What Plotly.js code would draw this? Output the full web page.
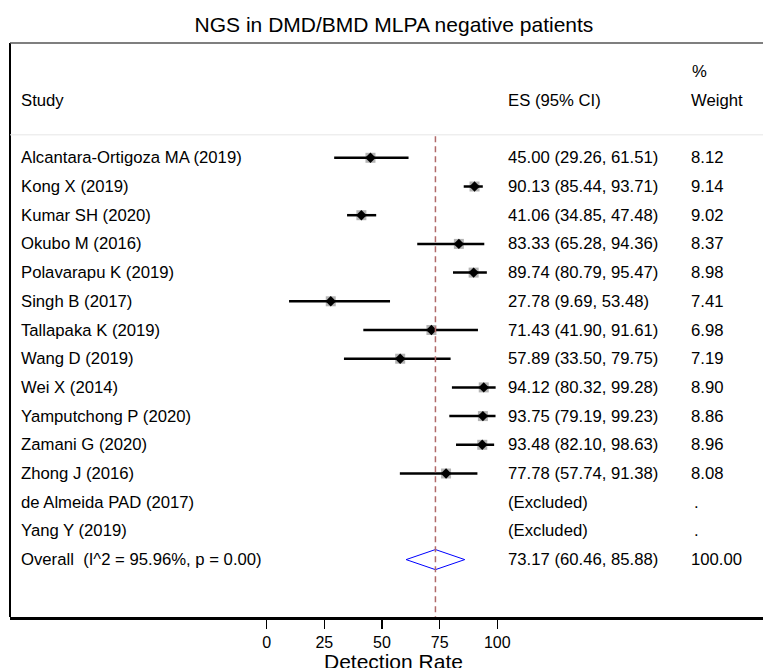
<!DOCTYPE html>
<html>
<head>
<meta charset="utf-8">
<script src="https://cdn.plot.ly/plotly-3.0.1.min.js"></script>
<style>html,body{margin:0;padding:0;background:#fff;}#chart{width:763px;height:668px;}</style>
</head>
<body>
<div id="chart"></div>
<script>
// ---- data ----
const studies = ["Alcantara-Ortigoza MA (2019)", "Kong X (2019)", "Kumar SH (2020)", "Okubo M (2016)",
  "Polavarapu K (2019)", "Singh B (2017)", "Tallapaka K (2019)", "Wang D (2019)", "Wei X (2014)",
  "Yamputchong P (2020)", "Zamani G (2020)", "Zhong J (2016)", "de Almeida PAD (2017)", "Yang Y (2019)"];
const es = [45.00, 90.13, 41.06, 83.33, 89.74, 27.78, 71.43, 57.89, 94.12, 93.75, 93.48, 77.78, null, null];
const ciLow = [29.26, 85.44, 34.85, 65.28, 80.79, 9.69, 41.90, 33.50, 80.32, 79.19, 82.10, 57.74, null, null];
const ciHigh = [61.51, 93.71, 47.48, 94.36, 95.47, 53.48, 91.61, 79.75, 99.28, 99.23, 98.63, 91.38, null, null];
const weights = [8.12, 9.14, 9.02, 8.37, 8.98, 7.41, 6.98, 7.19, 8.90, 8.86, 8.96, 8.08, null, null];
const overallLabel = "Overall  (I^2 = 95.96%, p = 0.00)";
const overallES = 73.17, overallLow = 60.46, overallHigh = 85.88, overallWeight = 100.00;
const tickVals = [0, 25, 50, 75, 100];
const tickText = ["0", "25", "50", "75", "100"];

// ---- layout helpers ----
const W = 763, H = 668, ML = 10, MR = 0, MT = 43, MB = 51;
const px = p => (p - ML) / (W - ML - MR);
const FONT = "Liberation Sans, Arial, sans-serif";
const rows = studies.map((_, i) => i);
const overallRow = studies.length;

const idx = rows.filter(i => es[i] !== null);

const traces = [
  { // weight boxes
    type: "scatter", mode: "markers",
    x: idx.map(i => es[i]), y: idx.map(i => rows[i]),
    marker: { symbol: "square", size: 10, color: "#b4b4b4" },
    hoverinfo: "skip", showlegend: false
  },
  { // CI lines + point
    type: "scatter", mode: "markers",
    x: idx.map(i => es[i]), y: idx.map(i => rows[i]),
    error_x: { type: "data", symmetric: false,
      array: idx.map(i => ciHigh[i] - es[i]), arrayminus: idx.map(i => es[i] - ciLow[i]),
      width: 0, thickness: 2.5, color: "#000" },
    marker: { symbol: "diamond", size: 8, color: "#000" },
    showlegend: false
  },
  { // overall diamond
    type: "scatter", mode: "lines",
    x: [overallLow, overallES, overallHigh, overallES, overallLow],
    y: [overallRow, overallRow - 0.35, overallRow, overallRow + 0.35, overallRow],
    line: { color: "#0000ff", width: 1 }, showlegend: false
  }
];

const ann = [];
const add = (text, x, y, opts) => ann.push(Object.assign({
  text, x: px(x), xref: "paper", y, yref: "y", xanchor: "left", yanchor: "middle",
  showarrow: false, font: { family: FONT, size: 16.7, color: "#000" }
}, opts || {}));

add("Study", 19, -2);
add("ES (95% CI)", 506, -2);
add("%", 690, -3);
add("Weight", 689, -2);
rows.forEach(i => {
  add(studies[i], 19, rows[i]);
  if (es[i] === null) {
    add("(Excluded)", 506, rows[i]);
    add(".", 692, rows[i]);
  } else {
    add(`${es[i].toFixed(2)} (${ciLow[i].toFixed(2)}, ${ciHigh[i].toFixed(2)})`, 506, rows[i]);
    add(weights[i].toFixed(2), 689, rows[i]);
  }
});
add(overallLabel, 19, overallRow);
add(`${overallES.toFixed(2)} (${overallLow.toFixed(2)}, ${overallHigh.toFixed(2)})`, 506, overallRow);
add(overallWeight.toFixed(2), 689, overallRow);

ann.push({ text: "Detection Rate", xref: "x", x: 55, yref: "paper", y: -(661 - 617) / (H - MT - MB),
  xanchor: "center", yanchor: "middle", showarrow: false,
  font: { family: FONT, size: 21, color: "#000" } });

const layout = {
  width: W, height: H,
  margin: { l: ML, r: MR, t: MT, b: MB },
  paper_bgcolor: "#fff", plot_bgcolor: "#fff",
  title: { text: "NGS in DMD/BMD MLPA negative patients", xref: "container", x: 394 / W, xanchor: "center",
    yref: "container", y: 1 - 25 / H, yanchor: "middle", font: { family: FONT, size: 21, color: "#000" } },
  xaxis: {
    range: [(ML - 266.7) / 2.306, (W - 266.7) / 2.306],
    tickvals: tickVals, ticktext: tickText,
    showgrid: false, zeroline: false,
    showline: true, linecolor: "#000", linewidth: 3,
    ticks: "outside", ticklen: 9, tickwidth: 1.5, tickcolor: "#000",
    tickfont: { family: FONT, size: 16, color: "#000" },
    fixedrange: true
  },
  yaxis: { range: [16, -4], visible: false, showgrid: false, zeroline: false, fixedrange: true },
  shapes: [
    { type: "line", xref: "paper", yref: "paper", x0: 0, x1: 0, y0: 0, y1: 1, line: { color: "#000", width: 2 } },
    { type: "line", xref: "paper", yref: "paper", x0: 0, x1: 1, y0: 1, y1: 1, line: { color: "#555", width: 1.5 } },
    { type: "line", xref: "paper", yref: "y", x0: 0, x1: 1, y0: -0.8, y1: -0.8, line: { color: "#e6e6e6", width: 1 } },
    { type: "line", xref: "x", yref: "y", x0: overallES, x1: overallES, y0: -0.75, y1: 16,
      line: { color: "#b06a6a", width: 1.5, dash: "6px,4px" } }
  ],
  annotations: ann,
  showlegend: false
};

Plotly.newPlot("chart", traces, layout, { displayModeBar: false, staticPlot: true });
</script>
</body>
</html>
